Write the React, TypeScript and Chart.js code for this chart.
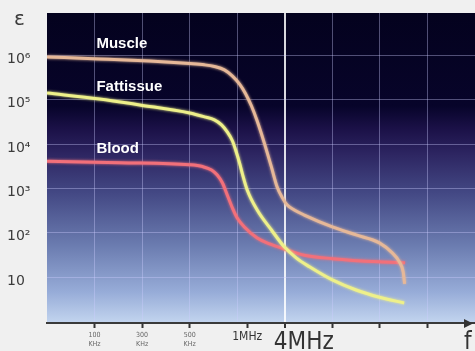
import React, { useEffect, useRef } from 'react';
import { Chart, registerables } from 'chart.js';

Chart.register(...registerables);

// Frequency positions (axis units: 1 = 100 kHz, 2 = 300 kHz, 3 = 500 kHz, 4.21 = 1 MHz, 5 = 4 MHz)
const MUSCLE_F = [0, 1.1, 2.16, 3.0, 3.31, 3.52, 3.73, 3.9, 4.05, 4.17, 4.3, 4.42, 4.57, 4.72, 4.84, 4.95, 5.05, 5.2, 5.41, 6.0, 6.5, 6.99, 7.26, 7.41, 7.49, 7.52];
const MUSCLE_E = [9.2e5, 8.3e5, 7.4e5, 6.5e5, 6.1e5, 5.6e5, 4.7e5, 3.4e5, 2.25e5, 1.4e5, 7.2e4, 3.3e4, 1.05e4, 3.0e3, 1.07e3, 610, 420, 325, 250, 135, 89, 59, 35, 22, 13, 7.0];

const FAT_F = [0, 1.1, 1.95, 3.0, 3.31, 3.52, 3.67, 3.79, 3.9, 3.98, 4.05, 4.11, 4.21, 4.42, 4.72, 4.99, 5.24, 5.52, 6.0, 6.5, 6.99, 7.51];
const FAT_E = [1.41e5, 1.04e5, 7.6e4, 5.0e4, 4.1e4, 3.5e4, 2.7e4, 1.87e4, 1.17e4, 6.6e3, 3.7e3, 2.1e3, 920, 325, 115, 48, 27, 17, 8.6, 5.1, 3.5, 2.6];

const BLOOD_F = [0, 1.53, 3.0, 3.27, 3.46, 3.58, 3.69, 3.79, 3.9, 4.0, 4.15, 4.42, 4.68, 4.99, 5.41, 6.0, 6.99, 7.53];
const BLOOD_E = [4.1e3, 3.8e3, 3.4e3, 3.1e3, 2.6e3, 2.0e3, 1.32e3, 710, 360, 215, 135, 76, 56, 43, 31, 26, 22, 21];

const SERIES_NAMES = ['Muscle', 'Fattissue', 'Blood'];
const SERIES_COLORS = ['#e6b898', '#eef08a', '#f2707a'];
// annotation anchor (axis units, value) for each series name
const NAME_F = [1.04, 1.04, 1.04];
const NAME_E = [1.5e6, 1.6e5, 6.2e3];

// x axis
const X_GRID = [1, 2, 3, 4, 5, 6, 7, 8];
const X_MARKS = [1, 2, 3, 4.21, 5, 6, 7, 8];
const X_LABEL_POS = [1, 2, 3, 4.21, 5.4, 8.85];
const X_LABEL_TEXT: (string | string[])[] = [['100', 'KHz'], ['300', 'KHz'], ['500', 'KHz'], '1MHz', '4MHz', 'f'];
const X_HIGHLIGHT = 5; // 4 MHz

// y axis (log)
const Y_TICKS = [10, 100, 1e3, 1e4, 1e5, 1e6];
const Y_LABELS = ['10', '10²', '10³', '10⁴', '10⁵', '10⁶'];
const Y_TITLE = 'ε';
const Y_MIN = 0.92;
const Y_MAX = 9e6;

const X_ALL = Array.from(new Set([...X_GRID, ...X_MARKS, ...X_LABEL_POS])).sort((a, b) => a - b);

const bgPlugin = {
  id: 'bgGradient',
  beforeDraw(chart: any) {
    const { ctx, chartArea } = chart;
    const { left, top, right, bottom } = chartArea;
    const g = ctx.createLinearGradient(0, top, 0, bottom);
    g.addColorStop(0, '#04021e');
    g.addColorStop(0.3, '#07042a');
    g.addColorStop(0.37, '#1a1046');
    g.addColorStop(0.45, '#2c2460');
    g.addColorStop(0.58, '#434884');
    g.addColorStop(0.75, '#6b7cb0');
    g.addColorStop(0.9, '#97acd8');
    g.addColorStop(1, '#c3d5ef');
    ctx.save();
    ctx.fillStyle = g;
    ctx.fillRect(left, top, right - left, bottom - top);
    ctx.restore();
  },
};

const glowPlugin = {
  id: 'glow',
  beforeDatasetDraw(chart: any, args: any) {
    const ctx = chart.ctx;
    ctx.save();
    ctx.shadowColor = SERIES_COLORS[args.index];
    ctx.shadowBlur = 3;
  },
  afterDatasetDraw(chart: any) {
    chart.ctx.restore();
  },
};

const namesPlugin = {
  id: 'seriesNames',
  afterDatasetsDraw(chart: any) {
    const { ctx, scales } = chart;
    ctx.save();
    ctx.fillStyle = '#ffffff';
    ctx.font = 'bold 15px "Liberation Sans", Arial, sans-serif';
    ctx.textAlign = 'left';
    ctx.textBaseline = 'alphabetic';
    SERIES_NAMES.forEach((n, i) => {
      ctx.fillText(n, scales.x.getPixelForValue(NAME_F[i]), scales.y.getPixelForValue(NAME_E[i]));
    });
    ctx.restore();
  },
};

const axisDecorPlugin = {
  id: 'axisDecor',
  afterDraw(chart: any) {
    const { ctx, chartArea } = chart;
    const tipX = chartArea.right - 2;
    const y = chartArea.bottom + 0.5;
    ctx.save();
    ctx.fillStyle = '#333333';
    ctx.beginPath();
    ctx.moveTo(tipX, y);
    ctx.lineTo(tipX - 9, y - 4.5);
    ctx.lineTo(tipX - 9, y + 4.5);
    ctx.closePath();
    ctx.fill();
    // y axis title
    ctx.fillStyle = '#3c3c3c';
    ctx.font = '20px "DejaVu Sans", sans-serif';
    ctx.textAlign = 'left';
    ctx.textBaseline = 'alphabetic';
    ctx.fillText(Y_TITLE, chartArea.left - 33, chartArea.top + 12);
    ctx.restore();
  },
};

const FONT = '"DejaVu Sans Condensed", "DejaVu Sans", sans-serif';

function labelFor(v: number): string | string[] {
  const i = X_LABEL_POS.indexOf(v);
  return i >= 0 ? X_LABEL_TEXT[i] : '';
}

function fontFor(v: number) {
  const l = labelFor(v);
  if (Array.isArray(l)) return { family: FONT, size: 7, lineHeight: 1.25 };
  if (l === '1MHz') return { family: FONT, size: 12, lineHeight: 1 };
  return { family: FONT, size: 24, lineHeight: 1 };
}

export default function App() {
  const ref = useRef<HTMLCanvasElement | null>(null);

  useEffect(() => {
    if (!ref.current) return;
    const mk = (fs: number[], es: number[]) => fs.map((f, i) => ({ x: f, y: es[i] }));
    const chart = new Chart(ref.current, {
      type: 'line',
      data: {
        datasets: [
          { label: SERIES_NAMES[0], data: mk(MUSCLE_F, MUSCLE_E), borderColor: SERIES_COLORS[0] },
          { label: SERIES_NAMES[1], data: mk(FAT_F, FAT_E), borderColor: SERIES_COLORS[1] },
          { label: SERIES_NAMES[2], data: mk(BLOOD_F, BLOOD_E), borderColor: SERIES_COLORS[2] },
        ].map((d) => ({
          ...d,
          borderWidth: 3,
          pointRadius: 0,
          fill: false,
          cubicInterpolationMode: 'monotone' as const,
        })),
      },
      options: {
        animation: false,
        responsive: false,
        events: [],
        layout: { padding: { left: 7, top: 13, right: 0, bottom: 0 } },
        plugins: { legend: { display: false }, tooltip: { enabled: false } },
        scales: {
          x: {
            type: 'linear',
            min: 0,
            max: 9,
            afterBuildTicks: (s: any) => {
              s.ticks = X_ALL.map((v) => ({ value: v }));
            },
            afterFit: (s: any) => {
              s.height = 28;
            },
            border: { display: true, color: '#3a3a3a', width: 2 },
            grid: {
              color: (c: any) =>
                !c.tick || !X_GRID.includes(c.tick.value)
                  ? 'rgba(0,0,0,0)'
                  : c.tick.value === X_HIGHLIGHT
                  ? 'rgba(255,255,255,0.85)'
                  : 'rgba(205,205,255,0.38)',
              lineWidth: (c: any) => (c.tick && c.tick.value === X_HIGHLIGHT ? 2 : 1),
              tickColor: (c: any) => (c.tick && X_MARKS.includes(c.tick.value) ? '#333333' : 'rgba(0,0,0,0)'),
              tickWidth: 2,
              tickLength: 5,
              drawTicks: true,
            },
            ticks: {
              autoSkip: false,
              maxRotation: 0,
              minRotation: 0,
              padding: 3,
              color: (c: any) => (Array.isArray(labelFor(c.tick.value)) ? '#666666' : '#333333'),
              font: (c: any) => fontFor(c.tick ? c.tick.value : 0),
              callback: (v: any) => labelFor(Number(v)),
            },
          },
          y: {
            type: 'logarithmic',
            min: Y_MIN,
            max: Y_MAX,
            afterBuildTicks: (s: any) => {
              s.ticks = Y_TICKS.map((v) => ({ value: v }));
            },
            afterFit: (s: any) => {
              s.width = 40;
            },
            border: { display: false },
            grid: {
              color: 'rgba(205,205,255,0.38)',
              drawTicks: false,
            },
            ticks: {
              crossAlign: 'far',
              labelOffset: 4,
              color: '#3c3c3c',
              font: { family: '"DejaVu Sans", sans-serif', size: 14 },
              callback: (v: any) => {
                const i = Y_TICKS.indexOf(Number(v));
                return i >= 0 ? Y_LABELS[i] : '';
              },
            },
          },
        },
      },
      plugins: [bgPlugin, glowPlugin, namesPlugin, axisDecorPlugin],
    } as any);
    return () => chart.destroy();
  }, []);

  return (
    <div style={{ position: 'absolute', left: 0, top: 0, width: 475, height: 351, background: '#f0f0f0', overflow: 'hidden' }}>
      <canvas ref={ref} width={475} height={351} style={{ display: 'block' }} />
    </div>
  );
}
